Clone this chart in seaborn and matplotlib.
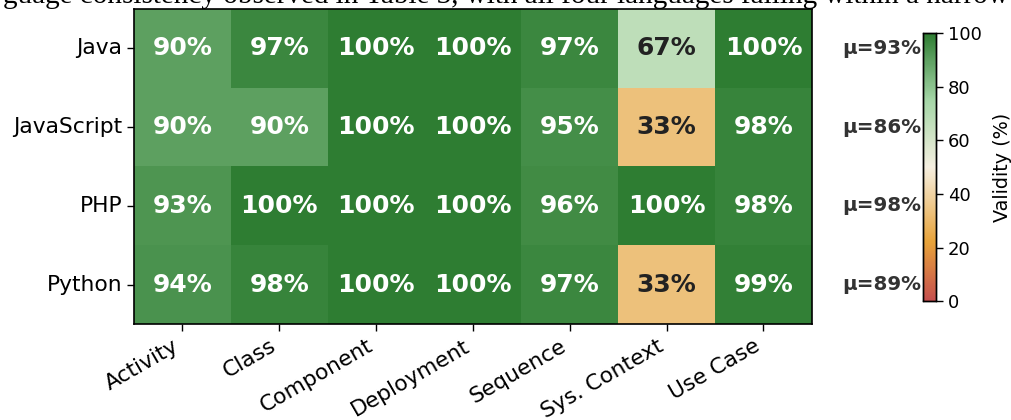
import numpy as np
import pandas as pd
import matplotlib
matplotlib.use("Agg")
import matplotlib.pyplot as plt
import seaborn as sns
from matplotlib.colors import LinearSegmentedColormap

languages = ["Java", "JavaScript", "PHP", "Python"]
diagrams = ["Activity", "Class", "Component", "Deployment", "Sequence", "Sys. Context", "Use Case"]
java = [90, 97, 100, 100, 97, 67, 100]
javascript = [90, 90, 100, 100, 95, 33, 98]
php = [93, 100, 100, 100, 96, 100, 98]
python = [94, 98, 100, 100, 97, 33, 99]
means = [93, 86, 98, 89]
cbar_ticks = [0, 20, 40, 60, 80, 100]

df = pd.DataFrame([java, javascript, php, python], index=languages, columns=diagrams)
labels = df.map(lambda v: f"{v:.0f}%")

cmap = LinearSegmentedColormap.from_list(
    "validity",
    [(0.0, "#c54e4e"), (0.22, "#e8a33a"), (0.5, "#f5efe0"), (0.75, "#a5d6a7"), (1.0, "#2e7d32")],
)

fig = plt.figure(figsize=(10.11, 4.2), dpi=100)
ax = fig.add_axes([0.1325, 0.2286, 0.6705, 0.75])
cax = fig.add_axes([0.913, 0.283, 0.0129, 0.638])

sns.heatmap(df, ax=ax, cbar_ax=cax, cmap=cmap, vmin=0, vmax=100,
            annot=labels.values, fmt="",
            annot_kws={"fontsize": 18, "fontweight": "bold"},
            cbar_kws={"ticks": cbar_ticks})

vals = df.values.flatten()
for t, v in zip(ax.texts, vals):
    t.set_color("#222222" if v < 75 else "white")

for s in ax.spines.values():
    s.set_visible(True)
    s.set_linewidth(1.2)
    s.set_color("black")

ax.tick_params(axis="both", length=5, width=1, labelsize=15.7)
ax.set_xticklabels(diagrams, rotation=30, ha="right")
ax.set_yticklabels(languages, rotation=0)
ax.set_xlabel("")
ax.set_ylabel("")

for i, m in enumerate(means):
    ax.text(1.162, 1 - (i + 0.5) / len(languages), f"μ={m}%", transform=ax.transAxes,
            ha="right", va="center", fontsize=14.3, fontweight="bold", color="#333333")

cax.tick_params(labelsize=13, length=5, width=1)
cax.set_ylabel("Validity (%)", fontsize=13.8, labelpad=8)
for s in cax.spines.values():
    s.set_visible(True)
    s.set_linewidth(1)

fig.text(0.5, 1 - 3 / 420, "guage consistency observed in Table 3, with all four languages falling within a narrow",
         ha="center", va="baseline", fontsize=21, family="Liberation Serif", color="black")

fig.savefig("out.png", dpi=100)
